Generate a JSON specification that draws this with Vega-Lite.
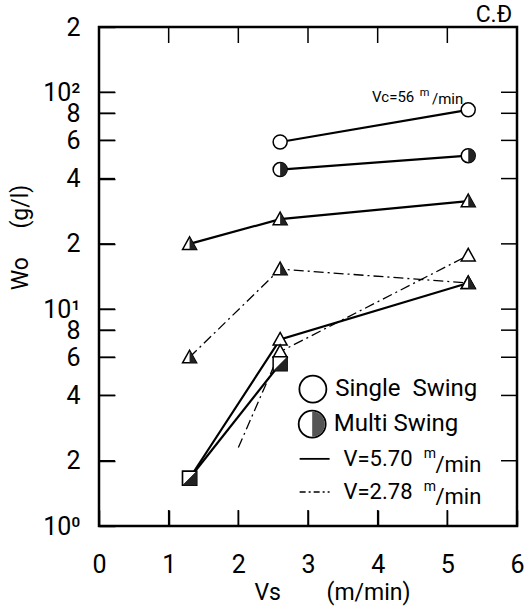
{
  "$schema": "https://vega.github.io/schema/vega-lite/v6.json",
  "width": 418,
  "height": 499,
  "autosize": "none",
  "padding": {"left": 99, "top": 27, "right": 7, "bottom": 84},
  "config": {
    "view": {"stroke": "black", "strokeWidth": 2.5}
  },
  "datasets": {
    "series": [
      {"series": "A", "style": "solid", "vs": 2.6, "wo": 59, "sym": "circle", "fill": "open"},
      {"series": "A", "style": "solid", "vs": 5.3, "wo": 83, "sym": "circle", "fill": "open"},
      {"series": "B", "style": "solid", "vs": 2.6, "wo": 44, "sym": "circle", "fill": "half"},
      {"series": "B", "style": "solid", "vs": 5.3, "wo": 51, "sym": "circle", "fill": "half"},
      {"series": "C", "style": "solid", "vs": 1.3, "wo": 20, "sym": "triangle", "fill": "half"},
      {"series": "C", "style": "solid", "vs": 2.6, "wo": 26, "sym": "triangle", "fill": "half"},
      {"series": "C", "style": "solid", "vs": 5.3, "wo": 31.5, "sym": "triangle", "fill": "half"},
      {"series": "D", "style": "dashdot", "vs": 1.3, "wo": 6, "sym": "triangle", "fill": "half"},
      {"series": "D", "style": "dashdot", "vs": 2.6, "wo": 15.3, "sym": "triangle", "fill": "half"},
      {"series": "D", "style": "dashdot", "vs": 5.3, "wo": 13.2, "sym": "triangle", "fill": "half"},
      {"series": "E", "style": "solid", "vs": 1.3, "wo": 1.66, "sym": "square", "fill": "half"},
      {"series": "E", "style": "solid", "vs": 2.6, "wo": 7.25, "sym": "triangle", "fill": "open"},
      {"series": "E", "style": "solid", "vs": 5.3, "wo": 13.2, "sym": "triangle", "fill": "half"},
      {"series": "F", "style": "solid", "vs": 1.3, "wo": 1.66, "sym": "square", "fill": "half"},
      {"series": "F", "style": "solid", "vs": 2.6, "wo": 5.6, "sym": "square", "fill": "half"},
      {"series": "G", "style": "dashdot", "vs": 2.0, "wo": 2.3, "sym": "none", "fill": "none"},
      {"series": "G", "style": "dashdot", "vs": 2.6, "wo": 6.36, "sym": "triangle", "fill": "open"},
      {"series": "G", "style": "dashdot", "vs": 5.3, "wo": 17.7, "sym": "triangle", "fill": "open"}
    ],
    "ytickrows": [
      {"a": 0, "b": 0.23, "v": 2}, {"a": 0, "b": 0.23, "v": 4}, {"a": 0, "b": 0.23, "v": 6},
      {"a": 0, "b": 0.23, "v": 8}, {"a": 0, "b": 0.23, "v": 10}, {"a": 0, "b": 0.23, "v": 20},
      {"a": 0, "b": 0.23, "v": 40}, {"a": 0, "b": 0.23, "v": 60}, {"a": 0, "b": 0.23, "v": 80},
      {"a": 0, "b": 0.23, "v": 100},
      {"a": 5.77, "b": 6, "v": 2}, {"a": 5.77, "b": 6, "v": 4}, {"a": 5.77, "b": 6, "v": 6},
      {"a": 5.77, "b": 6, "v": 8}, {"a": 5.77, "b": 6, "v": 10}, {"a": 5.77, "b": 6, "v": 20},
      {"a": 5.77, "b": 6, "v": 40}, {"a": 5.77, "b": 6, "v": 60}, {"a": 5.77, "b": 6, "v": 80},
      {"a": 5.77, "b": 6, "v": 100}
    ],
    "xtickrows": [
      {"v": 1, "a": 1, "b": 1.185}, {"v": 2, "a": 1, "b": 1.185}, {"v": 3, "a": 1, "b": 1.185},
      {"v": 4, "a": 1, "b": 1.185}, {"v": 5, "a": 1, "b": 1.185},
      {"v": 1, "a": 168.8, "b": 200}, {"v": 2, "a": 168.8, "b": 200}, {"v": 3, "a": 168.8, "b": 200},
      {"v": 4, "a": 168.8, "b": 200}, {"v": 5, "a": 168.8, "b": 200}
    ],
    "legsym": [
      {"vs": 3.07, "wo": 4.28, "fill": "open"},
      {"vs": 3.06, "wo": 2.95, "fill": "half"}
    ],
    "legline": [
      {"g": "a", "style": "solid", "vs": 2.88, "wo": 2.04},
      {"g": "a", "style": "solid", "vs": 3.31, "wo": 2.04},
      {"g": "b", "style": "dashdot", "vs": 2.88, "wo": 1.435},
      {"g": "b", "style": "dashdot", "vs": 3.31, "wo": 1.435}
    ],
    "texts": [
      {"role": "legend", "vs": 3.39, "wo": 4.28, "t": "Single\u00a0\u00a0Swing"},
      {"role": "legend", "vs": 3.37, "wo": 2.95, "t": "Multi Swing"},
      {"role": "vtext", "vs": 3.51, "wo": 2.04, "t": "V=5.70"},
      {"role": "sup", "vs": 4.66, "wo": 2.14, "t": "m"},
      {"role": "vtext", "vs": 4.83, "wo": 1.92, "t": "/min"},
      {"role": "vtext", "vs": 3.51, "wo": 1.435, "t": "V=2.78"},
      {"role": "sup", "vs": 4.66, "wo": 1.51, "t": "m"},
      {"role": "vtext", "vs": 4.83, "wo": 1.355, "t": "/min"},
      {"role": "note", "vs": 3.92, "wo": 94.8, "t": "Vc=56"},
      {"role": "notesup", "vs": 4.605, "wo": 99.5, "t": "m"},
      {"role": "note", "vs": 4.78, "wo": 92.9, "t": "/min"}
    ],
    "corner": [
      {"vs": 5.93, "wo": 226, "t": "C.Đ"}
    ]
  },
  "layer": [
    {
      "data": {"name": "series"},
      "transform": [{"filter": "datum.style == 'solid'"}],
      "mark": {"type": "line", "color": "black", "strokeWidth": 2.2},
      "encoding": {
        "x": {"field": "vs", "type": "quantitative", "scale": {"domain": [0, 6], "nice": false},
          "axis": {"orient": "bottom", "values": [0, 1, 2, 3, 4, 5, 6], "format": "d", "domain": false, "grid": false,
            "ticks": true, "tickSize": -16, "tickColor": "black", "tickWidth": 1.5, "labelPadding": 42,
            "labelFont": "Roboto", "labelFontSize": 25, "labelColor": "black", "labelFlush": false, "labelOverlap": false, "labelBound": false,
            "title": "Vs\u00a0\u00a0\u00a0\u00a0\u00a0\u00a0\u00a0\u00a0(m/min)", "titleFont": "Roboto", "titleFontSize": 23, "titleFontWeight": "normal", "titleColor": "black",
            "titleX": 233, "titleY": 66, "titleBaseline": "middle", "titleAlign": "center"}},
        "y": {"field": "wo", "type": "quantitative", "scale": {"type": "log", "domain": [1, 200], "nice": false},
          "axis": {"orient": "left", "values": [1, 2, 4, 6, 8, 10, 20, 40, 60, 80, 100, 200], "domain": false, "grid": false,
            "ticks": true, "tickSize": -16, "tickColor": "black", "tickWidth": 1.5, "labelPadding": 35,
            "labelFont": "Roboto", "labelFontSize": 25, "labelColor": "black", "labelFlush": false, "labelOverlap": false, "labelBound": false,
            "labelExpr": "datum.value == 1 ? '10⁰' : datum.value == 10 ? '10¹' : datum.value == 100 ? '10²' : datum.value >= 100 ? '2' : datum.value >= 10 ? format(datum.value/10, 'd') : format(datum.value, 'd')",
            "title": "Wo\u00a0\u00a0\u00a0\u00a0\u00a0(g/l)", "titleFont": "Roboto", "titleFontSize": 23, "titleFontWeight": "normal", "titleColor": "black",
            "titleX": -79, "titleY": 210, "titleAngle": -90, "titleAlign": "center", "titleBaseline": "middle"}},
        "detail": {"field": "series"}
      }
    },
    {
      "data": {"name": "series"},
      "transform": [{"filter": "datum.style == 'dashdot'"}],
      "mark": {"type": "line", "color": "black", "strokeWidth": 1.3, "strokeDash": [10, 4, 2, 4]},
      "encoding": {
        "x": {"field": "vs", "type": "quantitative"},
        "y": {"field": "wo", "type": "quantitative"},
        "detail": {"field": "series"}
      }
    },
    {
      "data": {"name": "ytickrows"},
      "mark": {"type": "rule", "stroke": "black", "strokeWidth": 1.5},
      "encoding": {
        "x": {"field": "a", "type": "quantitative"},
        "x2": {"field": "b"},
        "y": {"field": "v", "type": "quantitative"}
      }
    },
    {
      "data": {"name": "xtickrows"},
      "mark": {"type": "rule", "stroke": "black", "strokeWidth": 1.5},
      "encoding": {
        "x": {"field": "v", "type": "quantitative"},
        "y": {"field": "a", "type": "quantitative"},
        "y2": {"field": "b"}
      }
    },
    {
      "data": {"name": "series"},
      "transform": [{"filter": "datum.sym == 'circle'"}],
      "mark": {"type": "point", "filled": true, "fill": "white", "stroke": "black", "strokeWidth": 1.5, "size": 196, "opacity": 1, "shape": "M-1,0A1,1 0 1,1 1,0A1,1 0 1,1 -1,0Z"},
      "encoding": {"x": {"field": "vs", "type": "quantitative"}, "y": {"field": "wo", "type": "quantitative"}}
    },
    {
      "data": {"name": "series"},
      "transform": [{"filter": "datum.sym == 'triangle'"}],
      "mark": {"type": "point", "filled": true, "fill": "white", "stroke": "black", "strokeWidth": 1.5, "size": 196, "opacity": 1, "shape": "M0,-1L1,0.8L-1,0.8Z"},
      "encoding": {"x": {"field": "vs", "type": "quantitative"}, "y": {"field": "wo", "type": "quantitative"}}
    },
    {
      "data": {"name": "series"},
      "transform": [{"filter": "datum.sym == 'square'"}],
      "mark": {"type": "point", "filled": true, "fill": "white", "stroke": "black", "strokeWidth": 1.5, "size": 196, "opacity": 1, "shape": "M-1,-1L1,-1L1,1L-1,1Z"},
      "encoding": {"x": {"field": "vs", "type": "quantitative"}, "y": {"field": "wo", "type": "quantitative"}}
    },
    {
      "data": {"name": "series"},
      "transform": [{"filter": "datum.sym == 'circle' && datum.fill == 'half'"}],
      "mark": {"type": "point", "filled": true, "fill": "#222", "strokeWidth": 0, "size": 196, "opacity": 1, "shape": "M0,-1A1,1 0 0,1 0,1Z"},
      "encoding": {"x": {"field": "vs", "type": "quantitative"}, "y": {"field": "wo", "type": "quantitative"}}
    },
    {
      "data": {"name": "series"},
      "transform": [{"filter": "datum.sym == 'triangle' && datum.fill == 'half'"}],
      "mark": {"type": "point", "filled": true, "fill": "#222", "strokeWidth": 0, "size": 196, "opacity": 1, "shape": "M0,-1L1,0.8L0,0.8Z"},
      "encoding": {"x": {"field": "vs", "type": "quantitative"}, "y": {"field": "wo", "type": "quantitative"}}
    },
    {
      "data": {"name": "series"},
      "transform": [{"filter": "datum.sym == 'square' && datum.fill == 'half'"}],
      "mark": {"type": "point", "filled": true, "fill": "#222", "strokeWidth": 0, "size": 196, "opacity": 1, "shape": "M1,-1L1,1L-1,1Z"},
      "encoding": {"x": {"field": "vs", "type": "quantitative"}, "y": {"field": "wo", "type": "quantitative"}}
    },
    {
      "data": {"name": "legsym"},
      "mark": {"type": "point", "filled": true, "fill": "white", "stroke": "black", "strokeWidth": 1.8, "size": 729, "opacity": 1, "shape": "M-1,0A1,1 0 1,1 1,0A1,1 0 1,1 -1,0Z"},
      "encoding": {"x": {"field": "vs", "type": "quantitative"}, "y": {"field": "wo", "type": "quantitative"}}
    },
    {
      "data": {"name": "legsym"},
      "transform": [{"filter": "datum.fill == 'half'"}],
      "mark": {"type": "point", "filled": true, "fill": "#555", "strokeWidth": 0, "size": 640, "opacity": 1, "shape": "M0,-1A1,1 0 0,1 0,1Z"},
      "encoding": {"x": {"field": "vs", "type": "quantitative"}, "y": {"field": "wo", "type": "quantitative"}}
    },
    {
      "data": {"name": "legline"},
      "transform": [{"filter": "datum.style == 'solid'"}],
      "mark": {"type": "line", "color": "black", "strokeWidth": 1.8},
      "encoding": {"x": {"field": "vs", "type": "quantitative"}, "y": {"field": "wo", "type": "quantitative"}, "detail": {"field": "g"}}
    },
    {
      "data": {"name": "legline"},
      "transform": [{"filter": "datum.style == 'dashdot'"}],
      "mark": {"type": "line", "color": "black", "strokeWidth": 1.3, "strokeDash": [6, 3, 2, 3]},
      "encoding": {"x": {"field": "vs", "type": "quantitative"}, "y": {"field": "wo", "type": "quantitative"}, "detail": {"field": "g"}}
    },
    {
      "data": {"name": "texts"},
      "transform": [{"filter": "datum.role == 'legend'"}],
      "mark": {"type": "text", "align": "left", "baseline": "middle", "font": "Roboto", "fontSize": 24, "color": "black"},
      "encoding": {"x": {"field": "vs", "type": "quantitative"}, "y": {"field": "wo", "type": "quantitative"}, "text": {"field": "t"}}
    },
    {
      "data": {"name": "texts"},
      "transform": [{"filter": "datum.role == 'vtext'"}],
      "mark": {"type": "text", "align": "left", "baseline": "middle", "font": "Roboto", "fontSize": 22, "color": "black"},
      "encoding": {"x": {"field": "vs", "type": "quantitative"}, "y": {"field": "wo", "type": "quantitative"}, "text": {"field": "t"}}
    },
    {
      "data": {"name": "texts"},
      "transform": [{"filter": "datum.role == 'sup'"}],
      "mark": {"type": "text", "align": "left", "baseline": "middle", "font": "Roboto", "fontSize": 14, "color": "black"},
      "encoding": {"x": {"field": "vs", "type": "quantitative"}, "y": {"field": "wo", "type": "quantitative"}, "text": {"field": "t"}}
    },
    {
      "data": {"name": "texts"},
      "transform": [{"filter": "datum.role == 'note'"}],
      "mark": {"type": "text", "align": "left", "baseline": "middle", "font": "Roboto", "fontSize": 15, "color": "black"},
      "encoding": {"x": {"field": "vs", "type": "quantitative"}, "y": {"field": "wo", "type": "quantitative"}, "text": {"field": "t"}}
    },
    {
      "data": {"name": "texts"},
      "transform": [{"filter": "datum.role == 'notesup'"}],
      "mark": {"type": "text", "align": "left", "baseline": "middle", "font": "Roboto", "fontSize": 11, "color": "black"},
      "encoding": {"x": {"field": "vs", "type": "quantitative"}, "y": {"field": "wo", "type": "quantitative"}, "text": {"field": "t"}}
    },
    {
      "data": {"name": "corner"},
      "mark": {"type": "text", "align": "right", "baseline": "middle", "font": "Roboto", "fontSize": 23, "color": "black", "clip": false},
      "encoding": {"x": {"field": "vs", "type": "quantitative"}, "y": {"field": "wo", "type": "quantitative"}, "text": {"field": "t"}}
    }
  ]
}
